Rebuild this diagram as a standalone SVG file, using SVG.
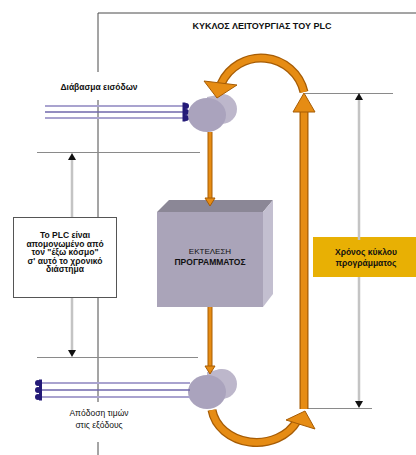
<svg xmlns="http://www.w3.org/2000/svg" width="416" height="455" viewBox="0 0 416 455">
  <style>
    .t { font-family: "Liberation Sans", Arial, sans-serif; fill: #111; text-anchor: middle; }
    .b { font-weight: bold; }
    .frame { stroke: #4a4a4a; stroke-width: 1; fill: none; }
    .dimh { stroke: #8a8a8a; stroke-width: 1; fill: none; }
    .dimv { stroke: #c4c4c4; stroke-width: 2.5; fill: none; }
    .wire { stroke: #a9a3cf; stroke-width: 2; fill: none; }
    .wire-mid { stroke: #6f67ab; stroke-width: 1.6; fill: none; }
    .comb { fill: #241a78; }
    .flow-edge { stroke: #a65c05; stroke-width: 9; fill: none; }
    .flow { stroke: #e68c14; stroke-width: 6.5; fill: none; }
    .flow-thin-edge { stroke: #a65c05; stroke-width: 5; fill: none; }
    .flow-thin { stroke: #e68c14; stroke-width: 3; fill: none; }
    .head { fill: #e68c14; stroke: #a65c05; stroke-width: 1; stroke-linejoin: round; }
    .tip { fill: #111; }
    .cyl-back { fill: #bdb7cb; }
    .cyl-front { fill: #aaa3bd; }
  </style>

  <!-- outer frame of the cycle -->
  <g id="frame">
    <path class="frame" d="M98 13 H416 M98 13 V72 M98 100 V218 M98 298 V402 M98 442 V455"/>
  </g>

  <g id="title">
    <text class="t b" x="262" y="29" font-size="9">ΚΥΚΛΟΣ ΛΕΙΤΟΥΡΓΙΑΣ ΤΟΥ PLC</text>
  </g>

  <!-- input wiring and label -->
  <g id="input-read">
    <text class="t b" x="99" y="90" font-size="8.5">Διάβασμα εισόδων</text>
    <path class="wire" d="M45 106 H185 M45 118 H185"/>
    <path class="wire-mid" d="M45 112 H185"/>
    <rect class="comb" x="182.5" y="102.5" width="3" height="19"/>
    <circle class="comb" cx="186" cy="106" r="3"/>
    <circle class="comb" cx="186" cy="112" r="3"/>
    <circle class="comb" cx="186" cy="118" r="3"/>
  </g>

  <g id="cylinder-in">
    <ellipse class="cyl-back" cx="222" cy="109" rx="15" ry="15"/>
    <polygon class="cyl-back" points="207,97 222,94 222,124 207,132"/>
    <ellipse class="cyl-front" cx="207" cy="115" rx="19" ry="17"/>
  </g>

  <!-- program execution block -->
  <g id="program-exec">
    <polygon fill="#8b8796" points="157,212 169,200 273,200 263,212"/>
    <polygon fill="#c3bfd0" points="263,212 273,200 273,294 263,307"/>
    <rect fill="#aaa4b9" x="157" y="212" width="106" height="95"/>
    <text class="t" x="210" y="254" font-size="8">ΕΚΤΕΛΕΣΗ</text>
    <text class="t b" x="210" y="265" font-size="8.5">ΠΡΟΓΡΑΜΜΑΤΟΣ</text>
  </g>

  <g id="cylinder-out">
    <ellipse class="cyl-back" cx="222" cy="384" rx="15" ry="15"/>
    <polygon class="cyl-back" points="207,372 222,369 222,399 207,408"/>
    <ellipse class="cyl-front" cx="207" cy="392" rx="19" ry="17"/>
  </g>

  <!-- output wiring and label -->
  <g id="output-write">
    <path class="wire" d="M38 383 H190 M38 397 H190"/>
    <path class="wire-mid" d="M38 390 H190"/>
    <rect class="comb" x="39" y="379.5" width="3" height="21"/>
    <circle class="comb" cx="38" cy="383" r="3"/>
    <circle class="comb" cx="38" cy="390" r="3"/>
    <circle class="comb" cx="38" cy="397" r="3"/>
    <text class="t" x="99" y="416" font-size="8.5">Απόδοση τιμών</text>
    <text class="t" x="99" y="428" font-size="8.5">στις εξόδους</text>
  </g>

  <g id="isolation-note">
    <rect x="13.5" y="217.5" width="103" height="80" fill="#fff" stroke="#555" stroke-width="1"/>
    <text class="t b" x="65" y="238" font-size="8.5">Το PLC είναι</text>
    <text class="t b" x="65" y="246.5" font-size="8.5">απομονωμένο από</text>
    <text class="t b" x="65" y="255" font-size="8.5">τον "έξω κόσμο"</text>
    <text class="t b" x="65" y="263.5" font-size="8.5">σ' αυτό το χρονικό</text>
    <text class="t b" x="65" y="272" font-size="8.5">διάστημα</text>
  </g>

  <g id="cycle-time">
    <rect x="313" y="237" width="103" height="40" fill="#e8b004"/>
    <text class="t b" x="366" y="255" font-size="8.5">Χρόνος κύκλου</text>
    <text class="t b" x="366" y="266" font-size="8.5">προγράμματος</text>
  </g>

  <!-- connectors: cycle flow and dimension lines -->
  <g id="connectors">
    <!-- left dimension (isolation interval) -->
    <path class="dimh" d="M37 152.5 H200 M37 357.5 H198"/>
    <path class="dimv" d="M72 160 V217 M72 298 V350"/>
    <polygon class="tip" points="72,153 68,160 76,160"/>
    <polygon class="tip" points="72,357 68,350 76,350"/>

    <!-- right dimension (scan time) -->
    <path class="dimh" d="M305 93.5 H393 M305 408.5 H372"/>
    <path class="dimv" d="M359 100 V240 M359 277 V402"/>
    <polygon class="tip" points="359,93 355,100 363,100"/>
    <polygon class="tip" points="359,408 355,401 363,401"/>

    <!-- return path: right vertical with arcs -->
    <path class="flow-edge" d="M304 110 V409"/>
    <path class="flow" d="M304 110 V409"/>
    <polygon class="head" points="304,93 293,112 315,112"/>

    <path class="flow-edge" d="M304 92 A44 44 0 0 0 221 84"/>
    <path class="flow" d="M304 92 A44 44 0 0 0 221 84"/>
    <polygon class="head" points="217,98 204,81 237,85"/>

    <path class="flow-edge" d="M212 410 A45 38 0 0 0 297 421"/>
    <path class="flow" d="M212 410 A45 38 0 0 0 297 421"/>
    <polygon class="head" points="305,411 286,420 315,429"/>

    <!-- sequence arrows through the program block -->
    <path class="flow-thin-edge" d="M210 132 V200"/>
    <path class="flow-thin" d="M210 132 V200"/>
    <polygon class="head" points="210,206 205,198 215,198"/>
    <path class="flow-thin-edge" d="M210 307 V367"/>
    <path class="flow-thin" d="M210 307 V367"/>
    <polygon class="head" points="210,374 205,366 215,366"/>
  </g>
</svg>
